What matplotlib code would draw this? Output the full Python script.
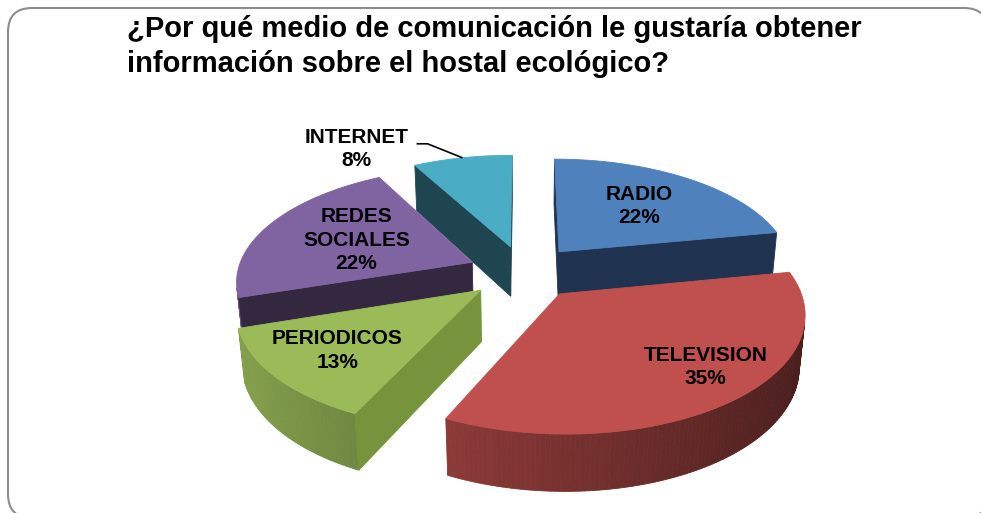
import numpy as np
import matplotlib.pyplot as plt
from matplotlib.patches import Polygon, FancyBboxPatch
import matplotlib.colors as mcolors

plt.rcParams['font.family'] = ['Liberation Sans', 'DejaVu Sans']

title = "¿Por qué medio de comunicación le gustaría obtener\ninformación sobre el hostal ecológico?"
labels = ["RADIO", "TELEVISION", "PERIODICOS", "REDES\nSOCIALES", "INTERNET"]
values = [22, 35, 13, 22, 8]

top_colors = ["#4F81BD", "#C0504D", "#9BBB59", "#8064A2", "#4BACC6"]
cut_colors = ["#1F3350", "#5A2220", "#77933C", "#33283F", "#1F4650"]
label_r = [0.6, 0.78, 0.72, 0.56, None]
label_turn = [0, -6, 0, 0, 0]

W, H = 981, 513
fig = plt.figure(figsize=(W / 100, H / 100), dpi=100)
ax = fig.add_axes([0, 0, 1, 1])
ax.set_xlim(0, W)
ax.set_ylim(H, 0)
ax.axis('off')

# rounded frame
ax.add_patch(FancyBboxPatch((8, 8), 980, 510, boxstyle="round,pad=0,rounding_size=24",
                            fc="white", ec="#8c8c8c", lw=1.5, zorder=0))

# simple perspective camera over the pie plane
elev = np.radians(28.5)
dist = 5.9
focal = 1386
cx, cy = 524, 272
thick = 0.25
explode = 0.24


def proj(u, w, z):
    Y = z * np.cos(elev) + w * np.sin(elev)
    Zc = dist + w * np.cos(elev) - z * np.sin(elev)
    return cx + focal * u / Zc, cy - focal * Y / Zc


def area(pts):
    x = np.array([p[0] for p in pts])
    y = -np.array([p[1] for p in pts])
    return 0.5 * np.sum(x * np.roll(y, -1) - np.roll(x, -1) * y)


def shade(c, f):
    r, g, b = mcolors.to_rgb(c)
    return (min(r * f, 1), min(g * f, 1), min(b * f, 1))


fracs = np.array(values) / sum(values)
ends = np.cumsum(fracs) * 360
starts = ends - fracs * 360

slices = []
for i in range(len(values)):
    a0, a1 = np.radians(starts[i]), np.radians(ends[i])
    mid = (a0 + a1) / 2
    ou, ow = explode * np.sin(mid), explode * np.cos(mid)
    slices.append((ow, i, a0, a1, mid, ou))

# back to front
slices.sort(key=lambda s: -s[0])

for order, (ow, i, a0, a1, mid, ou) in enumerate(slices):
    th = np.linspace(a0, a1, max(int(np.degrees(a1 - a0)), 2) + 1)
    rim_t = [proj(ou + np.sin(t), ow + np.cos(t), 0) for t in th]
    rim_b = [proj(ou + np.sin(t), ow + np.cos(t), -thick) for t in th]
    apex_t = proj(ou, ow, 0)
    apex_b = proj(ou, ow, -thick)
    zo = 2 + order * 3

    # outer wall
    for k in range(len(th) - 1):
        q = [rim_t[k], rim_t[k + 1], rim_b[k + 1], rim_b[k]]
        if area(q) > 0:
            tm = (th[k] + th[k + 1]) / 2
            f = 0.62 - 0.25 * np.sin(tm)
            col = shade(top_colors[i], f)
            ax.add_patch(Polygon(q, closed=True, fc=col, ec=col, lw=0.6, zorder=zo))

    # radial cut faces
    fs = [apex_t, rim_t[0], rim_b[0], apex_b]
    fe = [apex_t, apex_b, rim_b[-1], rim_t[-1]]
    for face in (fs, fe):
        if area(face) > 0:
            ax.add_patch(Polygon(face, closed=True, fc=cut_colors[i], ec=cut_colors[i],
                                 lw=0.6, zorder=zo + 1))

    # top face
    top = [apex_t] + rim_t
    ax.add_patch(Polygon(top, closed=True, fc=top_colors[i], ec=top_colors[i],
                         lw=0.6, zorder=zo + 2))

    txt = f"{labels[i]}\n{values[i]}%"
    if label_r[i] is not None:
        lr = label_r[i]
        la = mid + np.radians(label_turn[i])
        lx, ly = proj(ou + lr * np.sin(la), ow + lr * np.cos(la), 0)
        ax.text(lx, ly, txt, ha='center', va='center', fontsize=15, fontweight='bold',
                linespacing=1.3, zorder=30)
    else:
        px, py = proj(ou + np.sin(mid), ow + np.cos(mid), 0)
        ax.plot([px, px - 35, px - 46], [py, py - 14, py - 14], color='black', lw=1.2,
                zorder=30, solid_capstyle='butt')
        ax.text(px - 106, py - 9, txt, ha='center', va='center', fontsize=15,
                fontweight='bold', linespacing=1.3, zorder=30)

fig.text(127 / W, 1 - 15 / H, title, ha='left', va='top', fontsize=21, fontweight='bold',
         linespacing=1.3)

fig.savefig("out.png", dpi=100)
